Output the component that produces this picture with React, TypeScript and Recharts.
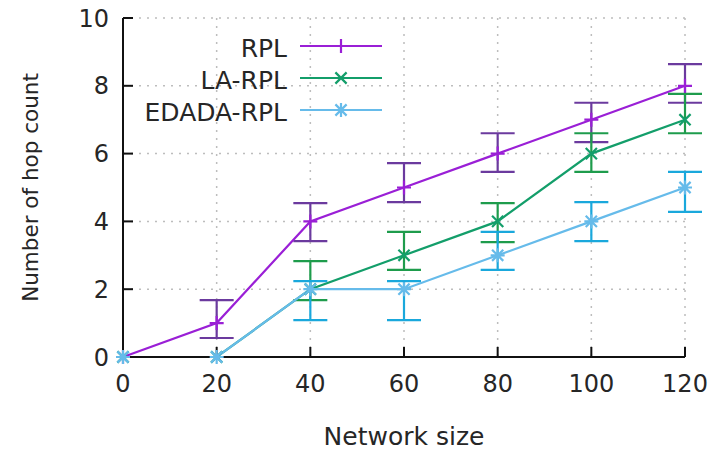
import React from 'react';
import { LineChart, Line, XAxis, YAxis, CartesianGrid, ErrorBar, Label } from 'recharts';

const networkSizes = [0, 20, 40, 60, 80, 100, 120];
const xTicks = [0, 20, 40, 60, 80, 100, 120];
const yTicks = [0, 2, 4, 6, 8, 10];

const rplHops = [0, 1, 4, 5, 6, 7, 8];
const rplLow = [null, 0.56, 3.42, 4.57, 5.46, 6.34, 7.5];
const rplHigh = [null, 1.68, 4.54, 5.72, 6.6, 7.5, 8.64];

const laHops = [0, 0, 2, 3, 4, 6, 7];
const laLow = [null, null, 1.68, 2.57, 3.39, 5.46, 6.6];
const laHigh = [null, null, 2.83, 3.69, 4.54, 6.6, 7.76];

const edHops = [0, 0, 2, 2, 3, 4, 5];
const edLow = [null, null, 1.09, 1.09, 2.57, 3.42, 4.28];
const edHigh = [null, null, 2.24, 2.24, 3.69, 4.57, 5.46];

const seriesNames = ['RPL', 'LA-RPL', 'EDADA-RPL'];

const err = (v: number, lo: number | null, hi: number | null) =>
  lo == null || hi == null ? null : [v - lo, hi - v];

const data = networkSizes.map((s, i) => ({
  size: s,
  rpl: rplHops[i],
  rplErr: err(rplHops[i], rplLow[i], rplHigh[i]),
  la: laHops[i],
  laErr: err(laHops[i], laLow[i], laHigh[i]),
  ed: edHops[i],
  edErr: err(edHops[i], edLow[i], edHigh[i]),
}));

const C_RPL = '#9a1fd6';
const C_RPL_BAR = '#6b3a9e';
const C_LA = '#139e6a';
const C_LA_BAR = '#1e9c4c';
const C_ED = '#66bbea';
const C_ED_BAR = '#1aa8dc';

const FONT = '"DejaVu Sans", Verdana, sans-serif';
const TXT = '#262626';

const markerPath = (kind: string, cx: number, cy: number, r: number) => {
  const d = r * 0.8;
  if (kind === 'plus') return `M${cx - r},${cy}L${cx + r},${cy}M${cx},${cy - r}L${cx},${cy + r}`;
  if (kind === 'cross') return `M${cx - d},${cy - d}L${cx + d},${cy + d}M${cx - d},${cy + d}L${cx + d},${cy - d}`;
  return `M${cx - r},${cy}L${cx + r},${cy}M${cx},${cy - r}L${cx},${cy + r}M${cx - d},${cy - d}L${cx + d},${cy + d}M${cx - d},${cy + d}L${cx + d},${cy - d}`;
};

const makeDot = (kind: string, color: string) => (props: any) => {
  const { cx, cy, index } = props;
  if (cx == null || cy == null) return <g key={index} />;
  return <path key={index} d={markerPath(kind, cx, cy, 7)} stroke={color} strokeWidth={2.2} fill="none" />;
};

const legendItems = [
  { name: seriesNames[0], color: C_RPL, kind: 'plus' },
  { name: seriesNames[1], color: C_LA, kind: 'cross' },
  { name: seriesNames[2], color: C_ED, kind: 'star' },
];

const LegendBox = () => (
  <svg width={280} height={110} style={{ position: 'absolute', left: 130, top: 28, display: 'block' }}>
    {legendItems.map((it, i) => {
      const y = 20 + i * 32;
      return (
        <g key={it.name}>
          <text x={157} y={y} textAnchor="end" dominantBaseline="central" fontFamily={FONT} fontSize={25} fill={TXT}>
            {it.name}
          </text>
          <line x1={170} x2={252} y1={y - 2} y2={y - 2} stroke={it.color} strokeWidth={2.2} />
          <path d={markerPath(it.kind, 211, y - 2, 7)} stroke={it.color} strokeWidth={2.2} fill="none" />
        </g>
      );
    })}
  </svg>
);

const YLabel = (props: any) => {
  const vb = props.viewBox || {};
  const x = vb.x + 30;
  const y = vb.y + vb.height / 2;
  return (
    <text x={x} y={y} transform={`rotate(-90, ${x}, ${y})`} textAnchor="middle" dominantBaseline="central" fontFamily={FONT} fontSize={21.5} fill={TXT}>
      Number of hop count
    </text>
  );
};

const XLabel = (props: any) => {
  const vb = props.viewBox || {};
  const x = vb.x + vb.width / 2;
  const y = vb.y + 79;
  return (
    <text x={x} y={y} textAnchor="middle" dominantBaseline="central" fontFamily={FONT} fontSize={25} fill={TXT}>
      Network size
    </text>
  );
};

const tickStyle = { fontFamily: FONT, fontSize: 24, fill: TXT };

export default function App() {
  return (
    <div style={{ position: 'absolute', left: 0, top: 0, width: 715, height: 449, background: '#fff' }}>
      <LineChart width={715} height={449} data={data} margin={{ top: 18, right: 30, bottom: 0, left: 0 }}>
        <CartesianGrid stroke="#bdbdbd" strokeDasharray="2 6" strokeWidth={1.5} />
        <XAxis
          dataKey="size"
          type="number"
          domain={[0, 120]}
          ticks={xTicks}
          height={92}
          tickSize={-10}
          tickMargin={28}
          tick={tickStyle}
          axisLine={{ stroke: '#111', strokeWidth: 2 }}
          tickLine={{ stroke: '#111', strokeWidth: 2 }}
        >
          <Label content={<XLabel />} />
        </XAxis>
        <XAxis
          xAxisId="top"
          orientation="top"
          type="number"
          domain={[0, 120]}
          ticks={xTicks}
          height={0}
          tickSize={-10}
          tickFormatter={() => ''}
          axisLine={{ stroke: '#111', strokeWidth: 2 }}
          tickLine={{ stroke: '#111', strokeWidth: 2 }}
        />
        <YAxis
          type="number"
          domain={[0, 10]}
          ticks={yTicks}
          width={123}
          tickSize={-10}
          tickMargin={24}
          tick={tickStyle}
          axisLine={{ stroke: '#111', strokeWidth: 2 }}
          tickLine={{ stroke: '#111', strokeWidth: 2 }}
        >
          <Label content={<YLabel />} />
        </YAxis>
        <YAxis
          yAxisId="right"
          orientation="right"
          type="number"
          domain={[0, 10]}
          ticks={yTicks}
          width={0}
          tickSize={-10}
          tickFormatter={() => ''}
          axisLine={{ stroke: '#111', strokeWidth: 2 }}
          tickLine={{ stroke: '#111', strokeWidth: 2 }}
        />
        <Line dataKey="rpl" name={seriesNames[0]} stroke={C_RPL} strokeWidth={2.2} isAnimationActive={false} dot={makeDot('plus', C_RPL)}>
          <ErrorBar dataKey="rplErr" width={17} stroke={C_RPL_BAR} strokeWidth={2.2} direction="y" />
        </Line>
        <Line dataKey="la" name={seriesNames[1]} stroke={C_LA} strokeWidth={2.2} isAnimationActive={false} dot={makeDot('cross', C_LA)}>
          <ErrorBar dataKey="laErr" width={17} stroke={C_LA_BAR} strokeWidth={2.2} direction="y" />
        </Line>
        <Line dataKey="ed" name={seriesNames[2]} stroke={C_ED} strokeWidth={2.2} isAnimationActive={false} dot={makeDot('star', C_ED)}>
          <ErrorBar dataKey="edErr" width={17} stroke={C_ED_BAR} strokeWidth={2.2} direction="y" />
        </Line>
      </LineChart>
      <LegendBox />
    </div>
  );
}
